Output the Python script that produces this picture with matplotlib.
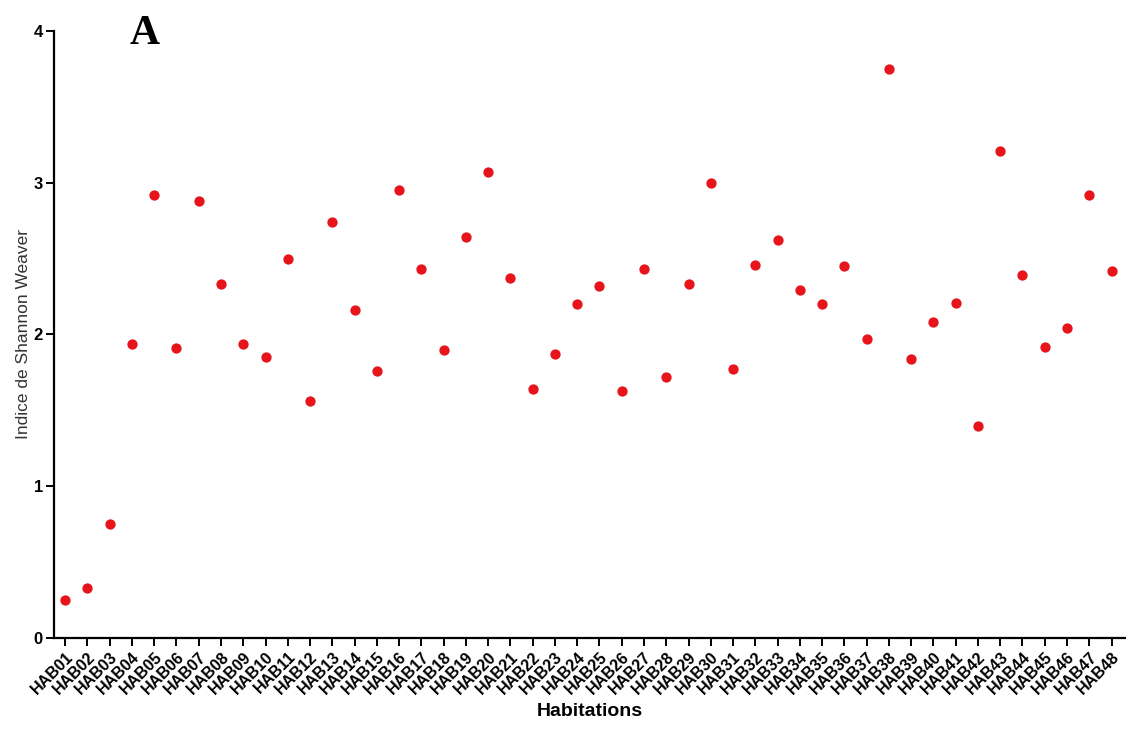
import matplotlib
matplotlib.use("Agg")
import matplotlib.pyplot as plt
import numpy as np

# Indice de Shannon Weaver par habitation
habitations = ["HAB%02d" % i for i in range(1, 49)]
shannon = [0.25, 0.33, 0.75, 1.94, 2.92, 1.91, 2.88, 2.33, 1.94, 1.85,
           2.50, 1.56, 2.74, 2.16, 1.76, 2.95, 2.43, 1.90, 2.64, 3.07,
           2.37, 1.64, 1.87, 2.20, 2.32, 1.63, 2.43, 1.72, 2.33, 3.00,
           1.77, 2.46, 2.62, 2.29, 2.20, 2.45, 1.97, 3.75, 1.84, 2.08,
           2.21, 1.40, 3.21, 2.39, 1.92, 2.04, 2.92, 2.42]

plt.rcParams['font.family'] = ['Liberation Sans', 'DejaVu Sans']

fig = plt.figure(figsize=(11.26, 7.47), dpi=100)
ax = fig.add_axes([0.048, 0.146, 0.951, 0.8125])

x = np.arange(1, len(habitations) + 1)
ax.scatter(x, shannon, s=55, color='#e8141b', zorder=3, linewidths=0)

ax.set_xlim(0.5, 48.6)
ax.set_ylim(0, 4)
ax.set_yticks([0, 1, 2, 3, 4])
ax.set_yticklabels(['0', '1', '2', '3', '4'], fontweight='bold', fontsize=12)
ax.set_xticks(x)
ax.set_xticklabels(habitations, rotation=45, ha='right', va='top',
                   rotation_mode='anchor', fontweight='bold', fontsize=11.5)

for s in ['top', 'right']:
    ax.spines[s].set_visible(False)
for s in ['left', 'bottom']:
    ax.spines[s].set_linewidth(1.6)
ax.tick_params(direction='out', length=6, width=1.4, pad=2)

ax.set_ylabel('Indice de Shannon Weaver', fontsize=12.5, color='#333333', labelpad=2)
ax.set_xlabel('Habitations', fontsize=14, fontweight='bold', labelpad=4)

fig.text(0.128, 0.955, 'A', fontsize=30, fontweight='bold',
         family='Liberation Serif', ha='center', va='center')

fig.savefig('out.png', dpi=100)
